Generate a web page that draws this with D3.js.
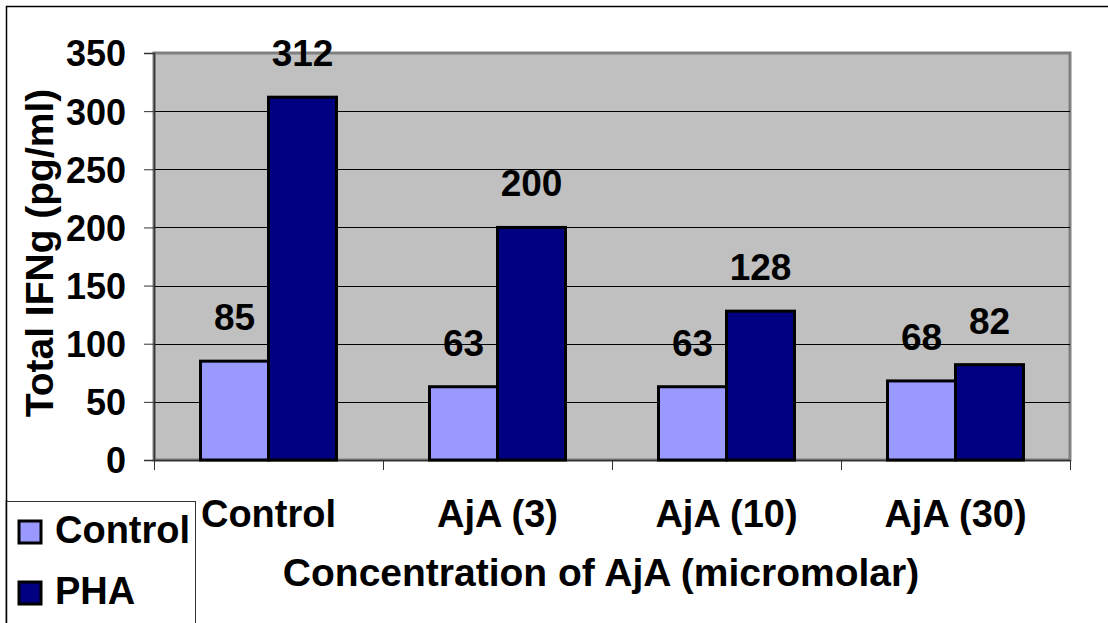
<!DOCTYPE html>
<html>
<head>
<meta charset="utf-8">
<script src="https://cdn.jsdelivr.net/npm/d3@7"></script>
<style>
  html, body { margin: 0; padding: 0; background: #fff; }
  svg { display: block; }
  text { font-family: "Liberation Sans", Arial, sans-serif; font-weight: bold; fill: #000; }
</style>
</head>
<body>
<script>
// Total IFNg by AjA concentration, with and without PHA stimulation
const categories = ["Control", "AjA (3)", "AjA (10)", "AjA (30)"];
const seriesNames = ["Control", "PHA"];
const controlValues = [85, 63, 63, 68];
const phaValues = [312, 200, 128, 82];
const yTicks = [0, 50, 100, 150, 200, 250, 300, 350];
const seriesColors = ["#9999FF", "#000080"];

const W = 1108, H = 623;
const plot = { left: 154, right: 1070, top: 53, bottom: 460 };

const svg = d3.select("body").append("svg").attr("width", W).attr("height", H);

// outer chart frame (extends beyond the window on right and bottom)
svg.append("rect")
  .attr("x", 6.5).attr("y", 6.5).attr("width", W + 20).attr("height", H + 20)
  .attr("fill", "#fff").attr("stroke", "#000").attr("stroke-width", 1.5);

const y = d3.scaleLinear().domain([0, 350]).range([plot.bottom, plot.top]);
const x0 = d3.scaleBand().domain(categories).range([plot.left, plot.right]).padding(0);
const x1 = d3.scaleBand().domain(seriesNames).range([0, x0.bandwidth()])
  .paddingInner(0).paddingOuter(0.684);

// plot area background
svg.append("rect")
  .attr("x", plot.left).attr("y", plot.top)
  .attr("width", plot.right - plot.left).attr("height", plot.bottom - plot.top)
  .attr("fill", "#C0C0C0").attr("stroke", "#808080").attr("stroke-width", 3);

// horizontal gridlines
svg.append("g").selectAll("line")
  .data(yTicks.filter(d => d > 0 && d < 350))
  .join("line")
  .attr("x1", plot.left).attr("x2", plot.right)
  .attr("y1", d => Math.round(y(d)) + 0.5).attr("y2", d => Math.round(y(d)) + 0.5)
  .attr("stroke", "#000").attr("stroke-width", 1);

// y axis
const yAxis = svg.append("g")
  .attr("transform", `translate(${plot.left},0)`)
  .call(d3.axisLeft(y).tickValues(yTicks).tickSize(10).tickPadding(18));
yAxis.select(".domain").attr("stroke", "#333").attr("stroke-width", 1.5);
yAxis.selectAll(".tick line").attr("stroke", "#333");
yAxis.selectAll(".tick text")
  .style("font-size", "36px").style("font-family", "'Liberation Sans', Arial, sans-serif")
  .style("font-weight", "bold").attr("fill", "#000").attr("dy", "0.36em");

// x axis: ticks at category boundaries
const xAxisG = svg.append("g");
xAxisG.append("line")
  .attr("x1", plot.left).attr("x2", plot.right)
  .attr("y1", plot.bottom + 0.5).attr("y2", plot.bottom + 0.5)
  .attr("stroke", "#333").attr("stroke-width", 1.5);
const boundaries = categories.map(c => x0(c)).concat([x0(categories[categories.length - 1]) + x0.bandwidth()]);
xAxisG.selectAll("line.tk").data(boundaries).join("line").attr("class", "tk")
  .attr("x1", d => Math.round(d) + 0.5).attr("x2", d => Math.round(d) + 0.5)
  .attr("y1", plot.bottom).attr("y2", plot.bottom + 10)
  .attr("stroke", "#333").attr("stroke-width", 1);
xAxisG.selectAll("text").data(categories).join("text")
  .attr("x", d => x0(d) + x0.bandwidth() / 2)
  .attr("y", 527)
  .attr("text-anchor", "middle")
  .style("font-size", "38px")
  .text(d => d);

// bars
const rows = categories.map((c, i) => ({
  cat: c,
  vals: [
    { series: seriesNames[0], value: controlValues[i], color: seriesColors[0] },
    { series: seriesNames[1], value: phaValues[i], color: seriesColors[1] }
  ]
}));

const groups = svg.append("g").selectAll("g").data(rows).join("g")
  .attr("transform", d => `translate(${x0(d.cat)},0)`);

groups.selectAll("rect").data(d => d.vals).join("rect")
  .attr("x", d => x1(d.series))
  .attr("y", d => y(d.value))
  .attr("width", x1.bandwidth())
  .attr("height", d => y(0) - y(d.value))
  .attr("fill", d => d.color)
  .attr("stroke", "#000").attr("stroke-width", 3);

// value labels
groups.selectAll("text").data(d => d.vals).join("text")
  .attr("x", d => x1(d.series) + x1.bandwidth() / 2)
  .attr("y", d => y(d.value) - 31)
  .attr("text-anchor", "middle")
  .style("font-size", "37px")
  .text(d => d.value);

// y axis title
svg.append("text")
  .attr("transform", "translate(53,253) rotate(-90)")
  .attr("text-anchor", "middle")
  .style("font-size", "39px")
  .text("Total IFNg (pg/ml)");

// x axis title
svg.append("text")
  .attr("x", 601).attr("y", 586)
  .attr("text-anchor", "middle")
  .style("font-size", "39px")
  .text("Concentration of AjA (micromolar)");

// legend
const legend = svg.append("g");
legend.append("rect")
  .attr("x", 6.5).attr("y", 501.5).attr("width", 189).attr("height", 140)
  .attr("fill", "#fff").attr("stroke", "#333").attr("stroke-width", 1);
// keep the frame edge crisp over the legend's left border
legend.append("line").attr("x1", 6.5).attr("x2", 6.5).attr("y1", 500).attr("y2", H)
  .attr("stroke", "#000").attr("stroke-width", 1.5);
const legendY = [543, 604];
seriesNames.forEach((s, i) => {
  legend.append("rect")
    .attr("x", 19).attr("y", legendY[i] - 22).attr("width", 22).attr("height", 22)
    .attr("fill", seriesColors[i]).attr("stroke", "#000").attr("stroke-width", 3);
  legend.append("text")
    .attr("x", 55).attr("y", legendY[i])
    .style("font-size", "38px")
    .text(s);
});
</script>
</body>
</html>
